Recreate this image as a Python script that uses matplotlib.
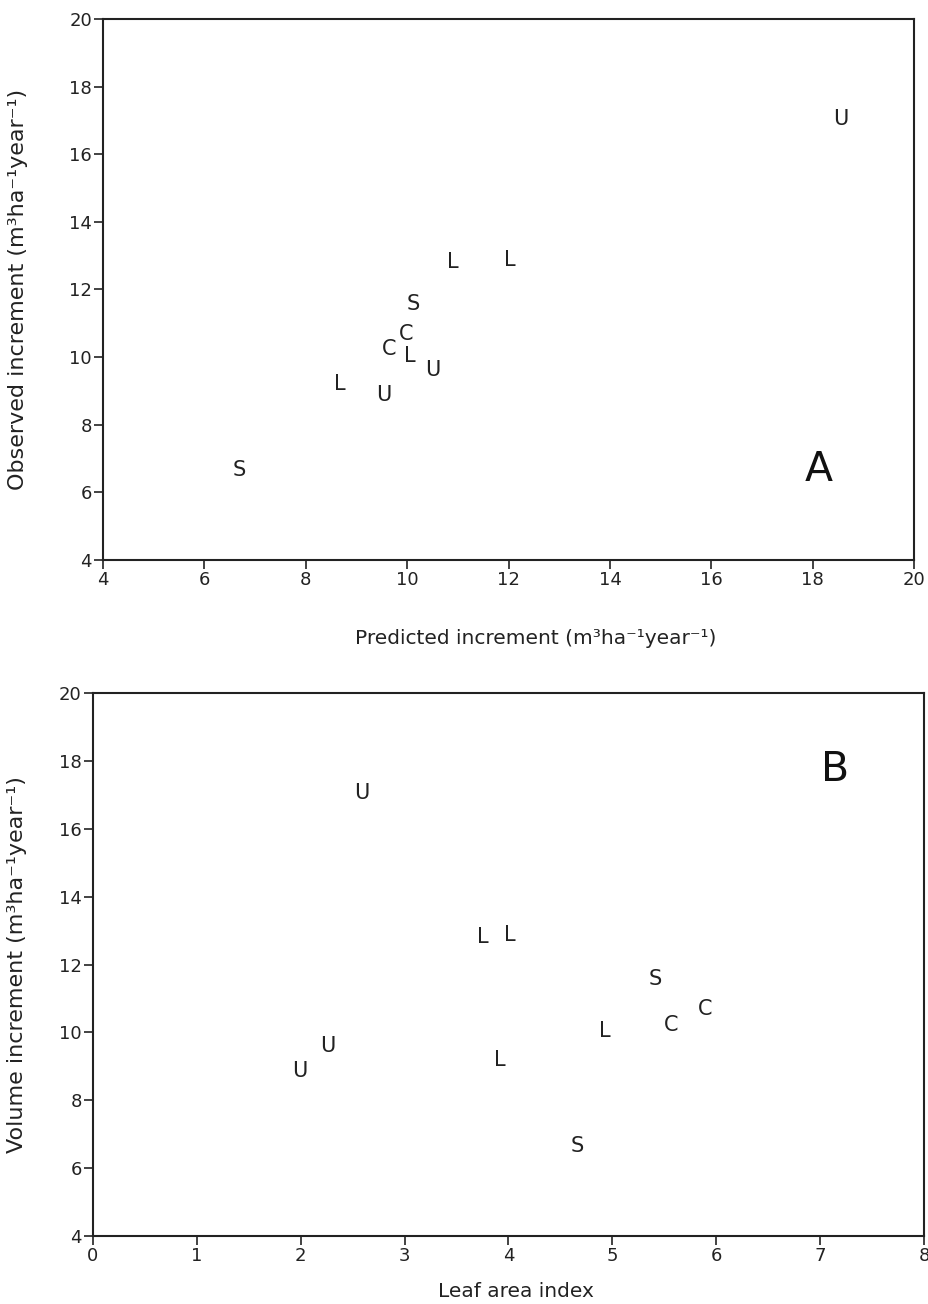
import matplotlib
matplotlib.use('Agg')
import matplotlib.pyplot as plt

plt.rcParams['font.family'] = ['DejaVu Sans']

# species code for each stand
species = ['U', 'L', 'L', 'S', 'C', 'C', 'L', 'U', 'L', 'U', 'S']
# predicted increment (m3/ha/yr)
predicted = [18.56, 10.90, 12.03, 10.11, 9.98, 9.64, 10.06, 10.51, 8.67, 9.54, 6.68]
# observed (volume) increment (m3/ha/yr)
observed = [17.04, 12.80, 12.87, 11.58, 10.69, 10.23, 10.03, 9.61, 9.20, 8.87, 6.65]
# leaf area index
lai = [2.59, 3.75, 4.01, 5.41, 5.89, 5.57, 4.93, 2.26, 3.92, 1.99, 4.66]

unit = '(m\u00b3ha\u207b\u00b9year\u207b\u00b9)'
ink = '#222222'

fig = plt.figure(figsize=(9.29, 13.04), dpi=100)
axA = fig.add_axes([0.111, 0.5706, 0.873, 0.4148])
axB = fig.add_axes([0.100, 0.0521, 0.8946, 0.4165])


def style(ax):
    for s in ax.spines.values():
        s.set_linewidth(1.5)
        s.set_color(ink)
    ax.tick_params(direction='out', length=6.5, width=1.2, labelsize=13,
                   colors=ink, pad=1.5)


def letters(ax, xs, ys):
    for x, y, s in zip(xs, ys, species):
        ax.text(x, y, s, ha='center', va='center', fontsize=15, color=ink)


# panel A
letters(axA, predicted, observed)
axA.set_xlim(4, 20)
axA.set_ylim(4, 20)
axA.set_xticks(range(4, 21, 2))
axA.set_yticks(range(4, 21, 2))
style(axA)
axA.set_xlabel('Predicted increment ' + unit, fontsize=14.5, color=ink)
axA.xaxis.set_label_coords(0.533, -0.128)
axA.set_ylabel('Observed increment ' + unit, fontsize=16, color=ink)
axA.yaxis.set_label_coords(-0.093, 0.5)
axA.text(0.882, 0.166, 'A', transform=axA.transAxes, fontsize=29.5,
         ha='center', va='center', color='#111111')

# panel B
letters(axB, lai, observed)
axB.set_xlim(0, 8)
axB.set_ylim(4, 20)
axB.set_xticks(range(0, 9))
axB.set_yticks(range(4, 21, 2))
style(axB)
axB.set_xlabel('Leaf area index', fontsize=14.5, color=ink)
axB.xaxis.set_label_coords(0.509, -0.084)
axB.set_ylabel('Volume increment ' + unit, fontsize=16, color=ink)
axB.yaxis.set_label_coords(-0.079, 0.5)
axB.text(0.893, 0.858, 'B', transform=axB.transAxes, fontsize=29.5,
         ha='center', va='center', color='#111111')

fig.savefig('out.png', dpi=100)
